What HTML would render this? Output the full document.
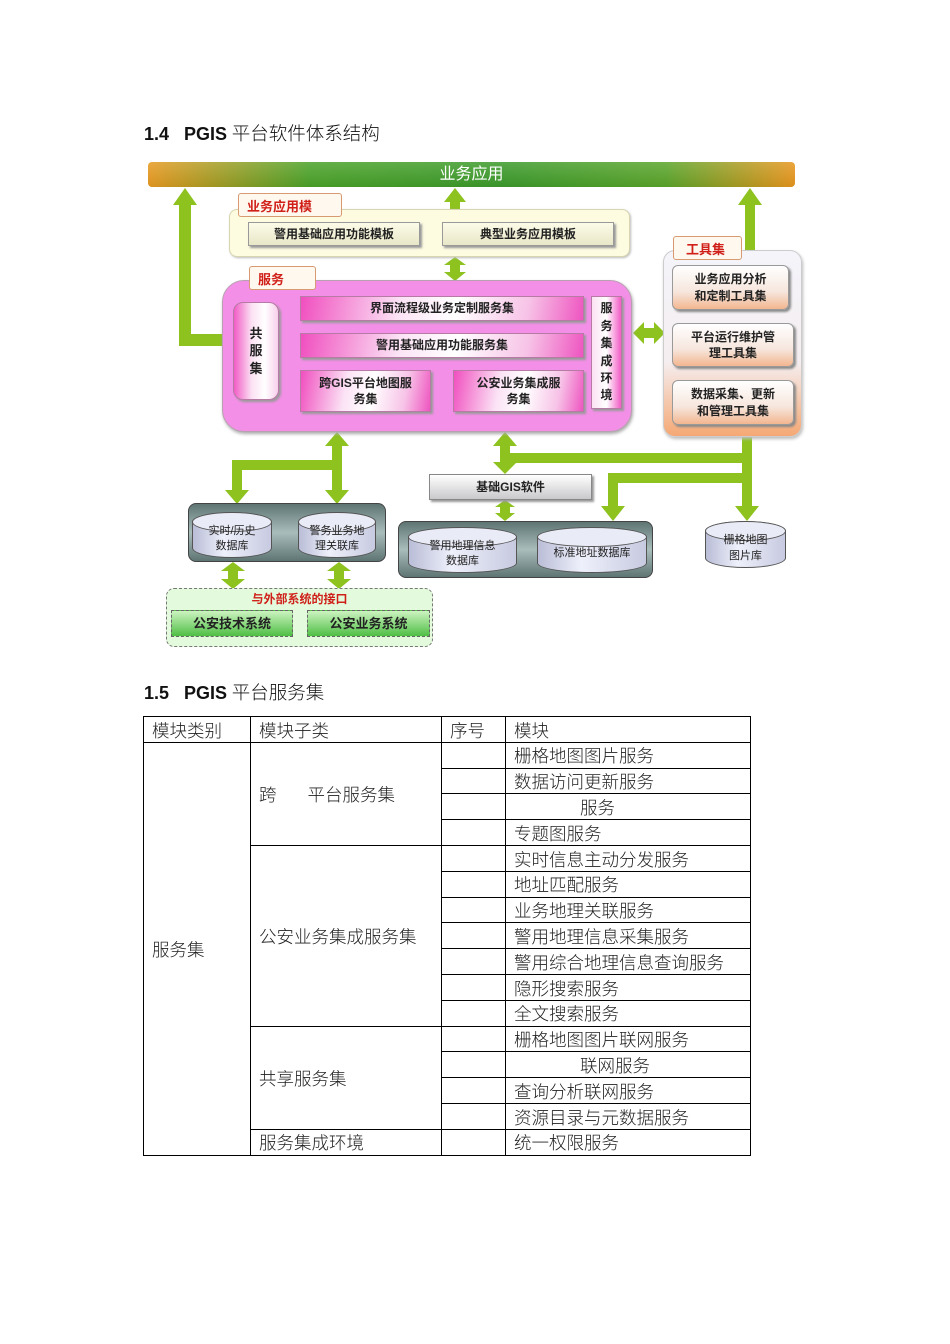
<!DOCTYPE html>
<html><head><meta charset="utf-8"><style>
*{margin:0;padding:0;box-sizing:border-box}
body{width:950px;height:1344px;background:#fff;position:relative;overflow:hidden;font-family:"Liberation Sans","Noto Sans CJK SC",sans-serif}
.a{position:absolute}
.h{font-size:17px;color:#111;white-space:nowrap}
.h b{font-family:"Liberation Sans",sans-serif;font-weight:bold;font-size:18px}
.h span{font-family:"Noto Sans CJK SC",sans-serif;font-weight:300;font-size:18.5px}
.bx{position:absolute;display:flex;align-items:center;justify-content:center;text-align:center;font-weight:bold;font-size:12px;color:#222;line-height:1.35}
.lab{position:absolute;background:#fff8ee;border:1px solid #d89a70;border-radius:3px;color:#d0201a;font-weight:bold;font-size:13px;padding-left:8px;display:flex;align-items:center}
.pk{background:linear-gradient(100deg,#f04fbf 0%,#fbe3f5 35%,#fff 55%,#f7c3e7 80%,#ee55c0 100%);border:1px solid #b77aa5;box-shadow:2px 2px 2px #999}
.cyl{position:absolute;background:linear-gradient(90deg,#b9bdd6,#eef0fb 40%,#c7cae0);border:1px solid #555;border-radius:50%/10px;display:flex;align-items:center;justify-content:center;text-align:center;font-size:11px;line-height:1.4;color:#222}
.cyl:before{content:"";position:absolute;top:-1px;left:-1px;right:-1px;height:18px;border:1px solid #555;border-radius:50%;background:#e9ebf6}
.cyl span{position:relative;top:4px}
.tool{background:linear-gradient(180deg,#fff,#f6e6dd 60%,#f3b690);border:1px solid #999;border-radius:6px;box-shadow:2px 2px 2px #888}
table{position:absolute;left:143px;top:716px;border-collapse:collapse;font-family:"Noto Sans CJK SC",sans-serif;font-weight:300;font-size:17.5px;color:#222}
td{border:1px solid #000;height:25.8px;padding:2px 0 0 8px;vertical-align:middle;line-height:1;white-space:nowrap}
</style></head><body>
<div class="a h" style="left:144px;top:120px"><b>1.4&nbsp;&nbsp;&nbsp;PGIS</b> <span>平台软件体系结构</span></div>
<div class="a h" style="left:144px;top:679px"><b>1.5&nbsp;&nbsp;&nbsp;PGIS</b> <span>平台服务集</span></div>

<!-- top bar -->
<div class="a" style="left:148px;top:162px;width:647px;height:25px;border-radius:4px;background:linear-gradient(180deg,rgba(255,255,255,.15),rgba(0,0,0,.05)),linear-gradient(90deg,#e89a20 0%,#4aa228 25%,#3b9a2a 55%,#5aa52a 80%,#e8961c 100%);color:#fff;font-size:16px;text-align:center;line-height:25px">业务应用</div>

<svg class="a" style="left:0;top:0" width="950" height="680">
<g fill="#8dc21f" stroke="none">
<rect x="179" y="200" width="12" height="146"/><rect x="179" y="334" width="45" height="12"/>
<polygon points="173,205 197,205 185,188"/>
<rect x="450" y="200" width="10" height="10"/><polygon points="444,202 466,202 455,188"/>
<rect x="450" y="264" width="10" height="10"/><polygon points="444,265 466,265 455,257"/><polygon points="444,272 466,272 455,281"/>
<rect x="745" y="200" width="10" height="52"/><polygon points="738,205 762,205 750,188"/>
<rect x="642" y="328" width="14" height="10"/><polygon points="644,322 644,344 633,333"/><polygon points="654,322 654,344 665,333"/>
<rect x="332" y="444" width="10" height="48"/><polygon points="325,446 349,446 337,432"/><polygon points="325,490 349,490 337,504"/>
<rect x="232" y="460" width="105" height="10"/><rect x="232" y="460" width="10" height="33"/><polygon points="225,490 249,490 237,504"/>
<rect x="500" y="444" width="10" height="20"/><polygon points="493,446 517,446 505,432"/><polygon points="493,462 517,462 505,474"/>
<rect x="505" y="453" width="247" height="10"/>
<rect x="742" y="437" width="10" height="72"/><polygon points="735,506 759,506 747,521"/>
<rect x="608" y="473" width="140" height="10"/><rect x="608" y="473" width="10" height="36"/><polygon points="601,506 625,506 613,521"/>
<rect x="500" y="506" width="10" height="8"/><polygon points="495,507 515,507 505,500"/><polygon points="495,513 515,513 505,521"/>
<rect x="228" y="570" width="10" height="10"/><polygon points="221,571 245,571 233,562"/><polygon points="221,579 245,579 233,589"/>
<rect x="334" y="570" width="10" height="10"/><polygon points="327,571 351,571 339,562"/><polygon points="327,579 351,579 339,589"/>
</g>
</svg>

<div class="a" style="left:229px;top:209px;width:401px;height:48px;background:#fdfbe0;border:1px solid #d8d6b0;border-radius:8px;box-shadow:1px 1px 2px #bbb"></div>
<div class="lab" style="left:238px;top:193px;width:104px;height:24px">业务应用模</div>
<div class="bx" style="left:248px;top:222px;width:172px;height:24px;background:linear-gradient(#fcfbe8,#e9e7c8);border:1px solid #999;box-shadow:2px 2px 2px #999">警用基础应用功能模板</div>
<div class="bx" style="left:442px;top:222px;width:172px;height:24px;background:linear-gradient(#fcfbe8,#e9e7c8);border:1px solid #999;box-shadow:2px 2px 2px #999">典型业务应用模板</div>

<div class="a" style="left:222px;top:280px;width:410px;height:152px;background:#f38fe7;border:1px solid #b9a0b0;border-radius:22px;box-shadow:1px 2px 3px #aaa"></div>
<div class="lab" style="left:249px;top:266px;width:67px;height:24px">服务</div>
<div class="bx pk" style="left:233px;top:302px;width:46px;height:98px;border-radius:10px;font-size:13px;background:linear-gradient(90deg,#f25cc6,#fbe1f3 40%,#fff 70%,#f8d0ec)">共<br>服<br>集</div>
<div class="bx pk" style="left:300px;top:296px;width:284px;height:25px">界面流程级业务定制服务集</div>
<div class="bx pk" style="left:300px;top:333px;width:284px;height:25px">警用基础应用功能服务集</div>
<div class="bx pk" style="left:300px;top:370px;width:131px;height:42px">跨GIS平台地图服<br>务集</div>
<div class="bx pk" style="left:453px;top:370px;width:131px;height:42px">公安业务集成服<br>务集</div>
<div class="bx pk" style="left:591px;top:296px;width:31px;height:113px;line-height:1.45;font-size:12px;background:linear-gradient(90deg,#fbe1f3,#fff 50%,#f25cc6)">服<br>务<br>集<br>成<br>环<br>境</div>

<div class="a" style="left:663px;top:250px;width:139px;height:187px;border-radius:12px;border:1px solid #ccc;background:linear-gradient(180deg,#f4f4fa 0%,#f5eef0 60%,#f5a874 100%);box-shadow:1px 2px 3px #bbb"></div>
<div class="lab" style="left:673px;top:236px;width:69px;height:24px;padding-left:12px">工具集</div>
<div class="bx tool" style="left:672px;top:265px;width:117px;height:45px">业务应用分析<br>和定制工具集</div>
<div class="bx tool" style="left:672px;top:323px;width:122px;height:44px">平台运行维护管<br>理工具集</div>
<div class="bx tool" style="left:672px;top:380px;width:122px;height:45px">数据采集、更新<br>和管理工具集</div>

<div class="bx" style="left:429px;top:474px;width:163px;height:26px;background:linear-gradient(#fff,#c9c9cc);border:1px solid #888;box-shadow:2px 2px 2px #999">基础GIS软件</div>

<div class="a" style="left:188px;top:503px;width:198px;height:59px;border-radius:8px;background:linear-gradient(#5e7574,#a9bdbb 50%,#5e7574);border:1px solid #444"></div>
<div class="cyl" style="left:192px;top:512px;width:80px;height:46px"><span>实时/历史<br>数据库</span></div>
<div class="cyl" style="left:298px;top:512px;width:78px;height:46px"><span>警务业务地<br>理关联库</span></div>
<div class="a" style="left:398px;top:521px;width:255px;height:57px;border-radius:8px;background:linear-gradient(#5e7574,#a9bdbb 50%,#5e7574);border:1px solid #444"></div>
<div class="cyl" style="left:408px;top:527px;width:109px;height:46px"><span>警用地理信息<br>数据库</span></div>
<div class="cyl" style="left:537px;top:527px;width:110px;height:46px"><span>标准地址数据库</span></div>
<div class="cyl" style="left:705px;top:521px;width:81px;height:47px"><span>栅格地图<br>图片库</span></div>

<div class="a" style="left:166px;top:588px;width:267px;height:59px;border:1px dashed #777;border-radius:8px;background:#e3fbdc"></div>
<div class="a" style="left:166px;top:590px;width:267px;text-align:center;color:#d0201a;font-weight:bold;font-size:12px">与外部系统的接口</div>
<div class="bx" style="left:171px;top:610px;width:122px;height:27px;background:linear-gradient(#cdf3c0,#4fbf45);border:1px dashed #666;font-size:13px">公安技术系统</div>
<div class="bx" style="left:307px;top:610px;width:123px;height:27px;background:linear-gradient(#cdf3c0,#4fbf45);border:1px dashed #666;font-size:13px">公安业务系统</div>

<table>
<colgroup><col style="width:107px"><col style="width:191px"><col style="width:64px"><col style="width:245px"></colgroup>
<tr><td>模块类别</td><td>模块子类</td><td>序号</td><td>模块</td></tr>
<tr><td rowspan="16">服务集</td><td rowspan="4">跨&nbsp;&nbsp;&nbsp;&nbsp;&nbsp;&nbsp;&nbsp;&nbsp;平台服务集</td><td></td><td>栅格地图图片服务</td></tr>
<tr><td></td><td>数据访问更新服务</td></tr>
<tr><td></td><td style="padding-left:74px">服务</td></tr>
<tr><td></td><td>专题图服务</td></tr>
<tr><td rowspan="7">公安业务集成服务集</td><td></td><td>实时信息主动分发服务</td></tr>
<tr><td></td><td>地址匹配服务</td></tr>
<tr><td></td><td>业务地理关联服务</td></tr>
<tr><td></td><td>警用地理信息采集服务</td></tr>
<tr><td></td><td>警用综合地理信息查询服务</td></tr>
<tr><td></td><td>隐形搜索服务</td></tr>
<tr><td></td><td>全文搜索服务</td></tr>
<tr><td rowspan="4">共享服务集</td><td></td><td>栅格地图图片联网服务</td></tr>
<tr><td></td><td style="padding-left:74px">联网服务</td></tr>
<tr><td></td><td>查询分析联网服务</td></tr>
<tr><td></td><td>资源目录与元数据服务</td></tr>
<tr><td>服务集成环境</td><td></td><td>统一权限服务</td></tr>
</table>
</body></html>
